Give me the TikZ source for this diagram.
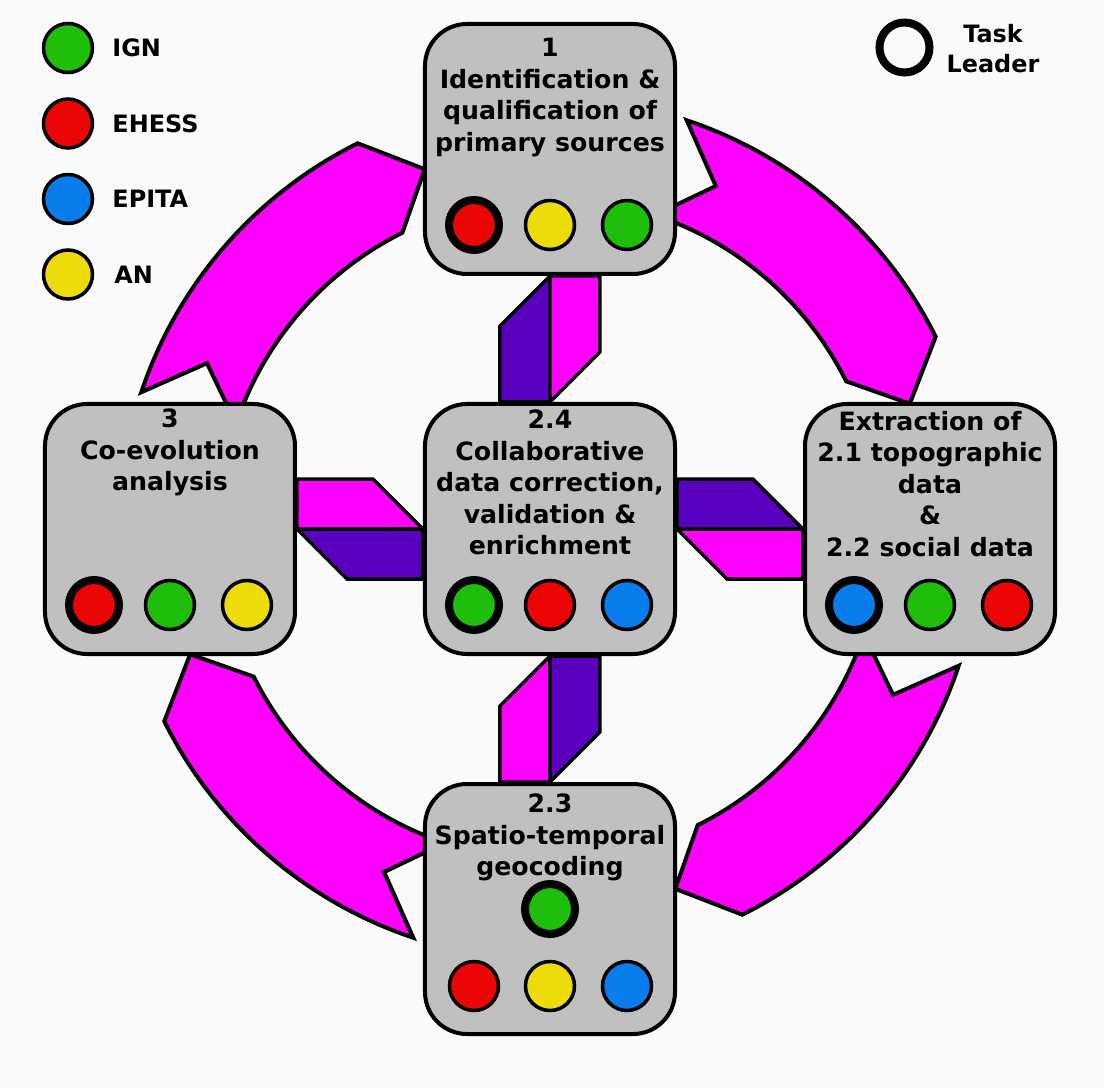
\documentclass[tikz,border=0pt]{standalone}
\usepackage{fontspec}
\setmainfont{DejaVu Sans}
\usetikzlibrary{positioning, calc}
\definecolor{boxgray}{RGB}{192,192,192}
\definecolor{ignc}{RGB}{30,190,10}
\definecolor{ehessc}{RGB}{235,5,5}
\definecolor{epitac}{RGB}{8,125,235}
\definecolor{anc}{RGB}{235,220,10}
\definecolor{flow}{RGB}{255,0,255}
\definecolor{backflow}{RGB}{90,0,190}
\definecolor{paper}{RGB}{250,250,250}
\pgfdeclarelayer{paper}
\pgfdeclarelayer{links}
\pgfsetlayers{paper,links,main}
\newcommand{\flowarrow}[1]{%
	\draw[flowarrow] (#1:431) arc[start angle=#1, end angle=#1-45, radius=431]
		-- (#1-52.3:381) -- (#1-45:331)
		arc[start angle=#1-45, end angle=#1, radius=331]
		-- (#1-7.3:381) -- cycle;}
\tikzset{
	task/.style={draw, line width=4bp, fill=boxgray, rounded corners=42bp, minimum size=250bp, inner sep=0pt},
	tasktext/.style={align=center, anchor=north, inner sep=0pt, font=\fontsize{25.3}{31.6}\selectfont\bfseries},
	partner/.style={circle, draw, line width=3.5bp, minimum size=49bp, inner sep=0pt, fill=#1},
	leader/.style={partner=#1, line width=8bp, minimum size=50bp},
	legendtext/.style={inner sep=0pt, font=\fontsize{24}{30}\selectfont\bfseries},
	link/.style={draw, line width=3.5bp},
	flowarrow/.style={draw, fill=flow, line width=4bp},
}

\begin{document}
\begin{tikzpicture}[x=1bp, y=1bp, node distance=126bp]
	\useasboundingbox (-550,-559) rectangle (554,529);
	\begin{pgfonlayer}{paper}
		\fill[paper] (-550,-559) rectangle (554,529);
	\end{pgfonlayer}

	\node[task] (c) {};
	\node[task, above=of c] (t) {};
	\node[task, left=of c] (l) {};
	\node[task, right=of c] (r) {};
	\node[task, below=of c] (b) {};

	\node[tasktext, below=16bp of t.north] (t text) {1\\Identification \&\\qualification of\\primary sources};
	\node[tasktext, below=7bp of l.north] (l text) {3\\Co-evolution\\analysis};
	\node[tasktext, below=8bp of c.north] (c text) {2.4\\Collaborative\\data correction,\\validation \&\\enrichment};
	\node[tasktext, below=9bp of r.north] (r text) {Extraction of\\2.1 topographic\\data\\\&\\2.2 social data};
	\node[tasktext, below=12bp of b.north] (b text) {2.3\\Spatio-temporal\\geocoding};

	\node[leader=ehessc] (t1) at ([shift={(-76,-76)}]t.center) {};
	\node[partner=anc] (t2) at ([shift={(0,-76)}]t.center) {};
	\node[partner=ignc] (t3) at ([shift={(77,-76)}]t.center) {};
	\node[leader=ehessc] (l1) at ([shift={(-76,-76)}]l.center) {};
	\node[partner=ignc] (l2) at ([shift={(0,-76)}]l.center) {};
	\node[partner=anc] (l3) at ([shift={(77,-76)}]l.center) {};
	\node[leader=ignc] (c1) at ([shift={(-76,-76)}]c.center) {};
	\node[partner=ehessc] (c2) at ([shift={(0,-76)}]c.center) {};
	\node[partner=epitac] (c3) at ([shift={(77,-76)}]c.center) {};
	\node[leader=epitac] (r1) at ([shift={(-76,-76)}]r.center) {};
	\node[partner=ignc] (r2) at ([shift={(0,-76)}]r.center) {};
	\node[partner=ehessc] (r3) at ([shift={(77,-76)}]r.center) {};
	\node[leader=ignc] (b0) at (b.center) {};
	\node[partner=ehessc] (b1) at ([shift={(-76,-77)}]b.center) {};
	\node[partner=anc] (b2) at ([shift={(0,-77)}]b.center) {};
	\node[partner=epitac] (b3) at ([shift={(77,-77)}]b.center) {};

	\node[partner=ignc] (ign) at (-482,481) {};
	\node[partner=ehessc, below=23bp of ign] (ehess) {};
	\node[partner=epitac, below=23bp of ehess] (epita) {};
	\node[partner=anc, below=23bp of epita] (an) {};
	\node[legendtext, right=18bp of ign] (ign label) {IGN};
	\node[legendtext, right=18bp of ehess] (ehess label) {EHESS};
	\node[legendtext, right=18bp of epita] (epita label) {EPITA};
	\node[legendtext, right=20bp of an] (an label) {AN};
	\node[leader=paper] (key) at (354.5,481.5) {};
	\node[legendtext, align=center] (key label) at (443,480) {Task\\Leader};

	\begin{pgfonlayer}{links}
		\flowarrow{71.5}
		\flowarrow{-18.5}
		\flowarrow{-108.5}
		\flowarrow{161.5}
		\draw[link, fill=backflow] (c.north) -| ($(t.south)+(-50,-50)$) -- (t.south) -- cycle;
		\draw[link, fill=flow] (t.south) -| ($(c.north)+(50,50)$) -- (c.north) -- cycle;
		\draw[link, fill=flow] (b.north) -| ($(c.south)+(-50,-50)$) -- (c.south) -- cycle;
		\draw[link, fill=backflow] (c.south) -| ($(b.north)+(50,50)$) -- (b.north) -- cycle;
		\draw[link, fill=flow] (l.east) |- ($(c.west)+(-50,50)$) -- (c.west) -- cycle;
		\draw[link, fill=backflow] (c.west) |- ($(l.east)+(50,-50)$) -- (l.east) -- cycle;
		\draw[link, fill=backflow] (c.east) |- ($(r.west)+(-50,50)$) -- (r.west) -- cycle;
		\draw[link, fill=flow] (r.west) |- ($(c.east)+(50,-50)$) -- (c.east) -- cycle;
	\end{pgfonlayer}
\end{tikzpicture}
\end{document}
